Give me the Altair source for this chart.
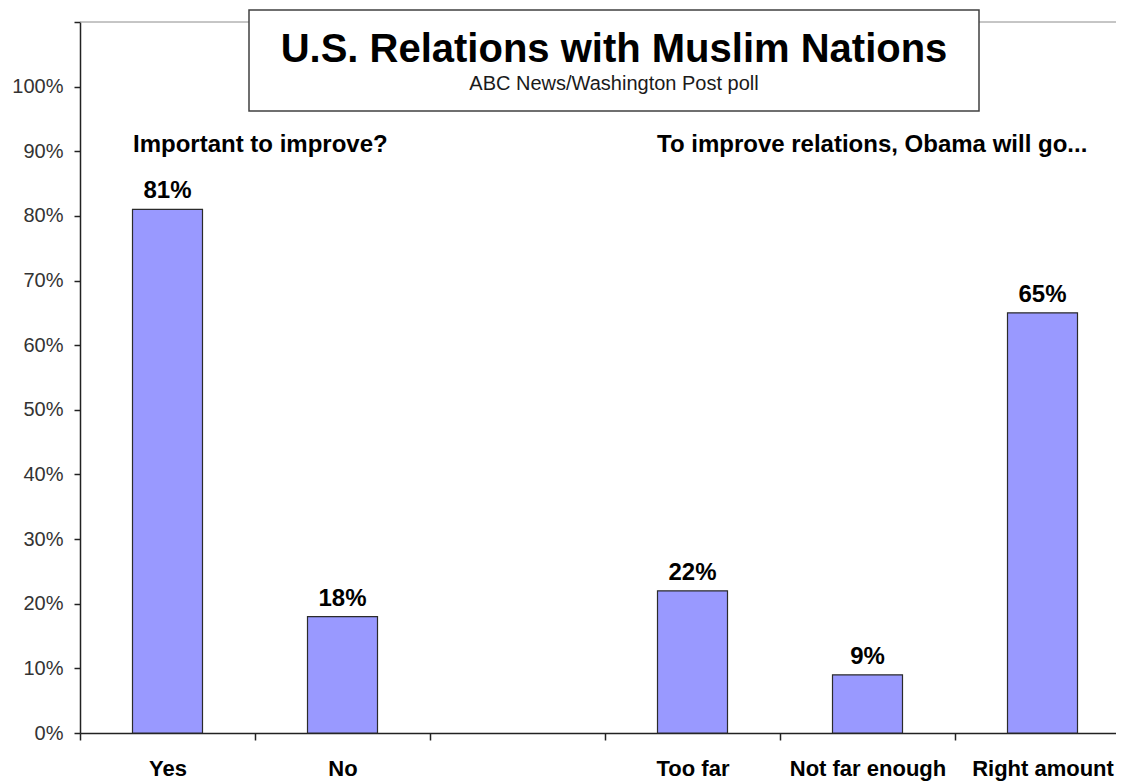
import altair as alt
import pandas as pd

# ---- data ----
SLOTS = ["Yes", "No", " ", "Too far", "Not far enough", "Right amount"]
VALUES = [81, 18, None, 22, 9, 65]

TITLE = "U.S. Relations with Muslim Nations"
SUBTITLE = "ABC News/Washington Post poll"
SECTION_LEFT = "Important to improve?"
SECTION_RIGHT = "To improve relations, Obama will go..."
Y_TICKS = [0, 10, 20, 30, 40, 50, 60, 70, 80, 90, 100, 110]

df = pd.DataFrame({"category": SLOTS, "value": VALUES})

FONT = "Liberation Sans"
W = 1036
STEP = 175
H = 711

xscale = alt.Scale(domain=SLOTS, range=[0, STEP * len(SLOTS)], paddingInner=0, paddingOuter=0)
yscale = alt.Scale(domain=[0, 110], nice=False)

one = alt.Data(values=[{}])

top_line = alt.Chart(one).mark_rule(color="#8c8c8c", strokeWidth=1).encode(
    x=alt.value(0), x2=alt.value(STEP * len(SLOTS)), y=alt.value(0)
)

bars = alt.Chart(df).transform_filter("isValid(datum.value)").mark_bar(
    width=alt.RelativeBandSize(0.4), color="#9999ff", stroke="#2b2b2b", strokeWidth=1.2
).encode(
    x=alt.X("category:N", sort=SLOTS, scale=xscale,
            axis=alt.Axis(title=None, labelAngle=0, labelFont=FONT, labelFontSize=22,
                          labelFontWeight="bold", labelColor="#000000",
                          labelBaseline="alphabetic", labelPadding=35, tickSize=7,
                          tickOffset=-STEP / 2, labelOffset=STEP / 2,
                          domainColor="#222222", domainWidth=1.5,
                          tickColor="#222222", tickWidth=1.5)),
    y=alt.Y("value:Q", scale=yscale,
            axis=alt.Axis(title=None, values=Y_TICKS,
                          labelExpr="datum.value > 105 ? '' : datum.value + '%'",
                          labelFont=FONT, labelFontSize=20, labelColor="#333333",
                          labelPadding=11, tickSize=6, tickColor="#222222", tickWidth=1.5,
                          domainColor="#222222", domainWidth=1.5, grid=False)),
)

labels = alt.Chart(df).transform_filter("isValid(datum.value)").transform_calculate(
    label="datum.value + '%'"
).mark_text(font=FONT, fontSize=24, fontWeight="bold", color="#000000",
            baseline="alphabetic", dy=-11).encode(
    x=alt.X("category:N", sort=SLOTS),
    y=alt.Y("value:Q"),
    text="label:N",
)

box = alt.Chart(one).mark_rect(fill="#ffffff", stroke="#404040", strokeWidth=1.5).encode(
    x=alt.value(169), x2=alt.value(899), y=alt.value(-12), y2=alt.value(89)
)

title = alt.Chart(one).mark_text(font=FONT, fontSize=40, fontWeight="bold", color="#000000",
                                 baseline="alphabetic", align="center").encode(
    x=alt.value(534), y=alt.value(40), text=alt.value(TITLE)
)

subtitle = alt.Chart(one).mark_text(font=FONT, fontSize=20, color="#1a1a1a",
                                    baseline="alphabetic", align="center").encode(
    x=alt.value(534), y=alt.value(68), text=alt.value(SUBTITLE)
)

sec_left = alt.Chart(one).mark_text(font=FONT, fontSize=24, fontWeight="bold", color="#000000",
                                    baseline="alphabetic", align="left").encode(
    x=alt.value(53), y=alt.value(130), text=alt.value(SECTION_LEFT)
)

sec_right = alt.Chart(one).mark_text(font=FONT, fontSize=24, fontWeight="bold", color="#000000",
                                     baseline="alphabetic", align="left").encode(
    x=alt.value(577), y=alt.value(130), text=alt.value(SECTION_RIGHT)
)

chart = alt.layer(top_line, bars, labels, box, title, subtitle, sec_left, sec_right).properties(
    width=W, height=H,
    autosize=alt.AutoSizeParams(type="none"),
    padding={"left": 72, "top": 14, "right": 0, "bottom": 48},
    background="#ffffff",
).configure_view(strokeWidth=0)

chart.save("out.html", embed_options={"renderer": "svg", "actions": False})
